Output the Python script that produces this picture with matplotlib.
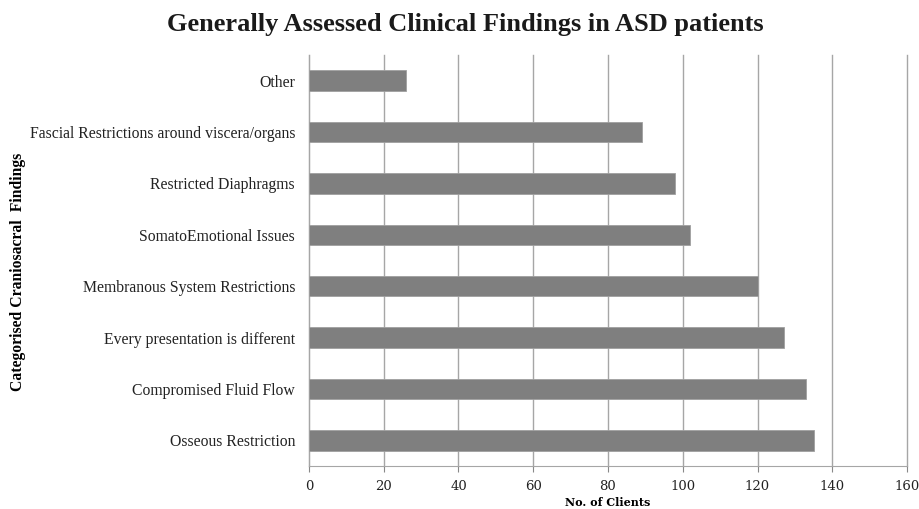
import matplotlib.pyplot as plt

categories = ['Osseous Restriction', 'Compromised Fluid Flow', 'Every presentation is different',
              'Membranous System Restrictions', 'SomatoEmotional Issues', 'Restricted Diaphragms',
              'Fascial Restrictions around viscera/organs', 'Other']
clients = [135, 133, 127, 120, 102, 98, 89, 26]
xticks = [0, 20, 40, 60, 80, 100, 120, 140, 160]

fig = plt.figure(figsize=(9.2, 5.09), dpi=100)
ax = fig.add_axes([309 / 920, 1 - 466 / 509, 598 / 920, 411 / 509])

ax.barh(range(len(categories)), clients, height=0.4, color='#7f7f7f',
        edgecolor='#a0a0a0', linewidth=0.6, zorder=3)

ax.set_xlim(0, 160)
ax.set_ylim(-0.5, len(categories) - 0.5)
ax.set_xticks(xticks)
ax.set_xticklabels([str(t) for t in xticks], family='DejaVu Serif', fontsize=9.5, color='#222222')
ax.set_yticks(range(len(categories)))
ax.set_yticklabels(categories, family='Liberation Serif', fontsize=11.3, color='#222222')
ax.tick_params(axis='y', length=0, pad=10)
ax.tick_params(axis='x', length=4, color='#888888', pad=6)

ax.grid(axis='x', color='#a6a6a6', linewidth=1, zorder=0)
for g in ax.xaxis.get_gridlines():
    g.set_clip_on(False)
for s in ['top', 'right']:
    ax.spines[s].set_visible(False)
ax.spines['left'].set_color('#a6a6a6')
ax.spines['bottom'].set_color('#a6a6a6')

ax.set_xlabel('No. of Clients', family='DejaVu Serif', fontweight='bold', fontsize=8, labelpad=3)
fig.text(18 / 920, 1 - 272 / 509, 'Categorised Craniosacral  Findings', rotation=90,
         family='Liberation Serif', fontweight='bold', fontsize=11.3, ha='center', va='center')
fig.text(465 / 920, 1 - 24 / 509, 'Generally Assessed Clinical Findings in ASD patients',
         family='Liberation Serif', fontweight='bold', fontsize=19, ha='center', va='center',
         color='#1a1a1a')

fig.savefig('out.png', dpi=100)
